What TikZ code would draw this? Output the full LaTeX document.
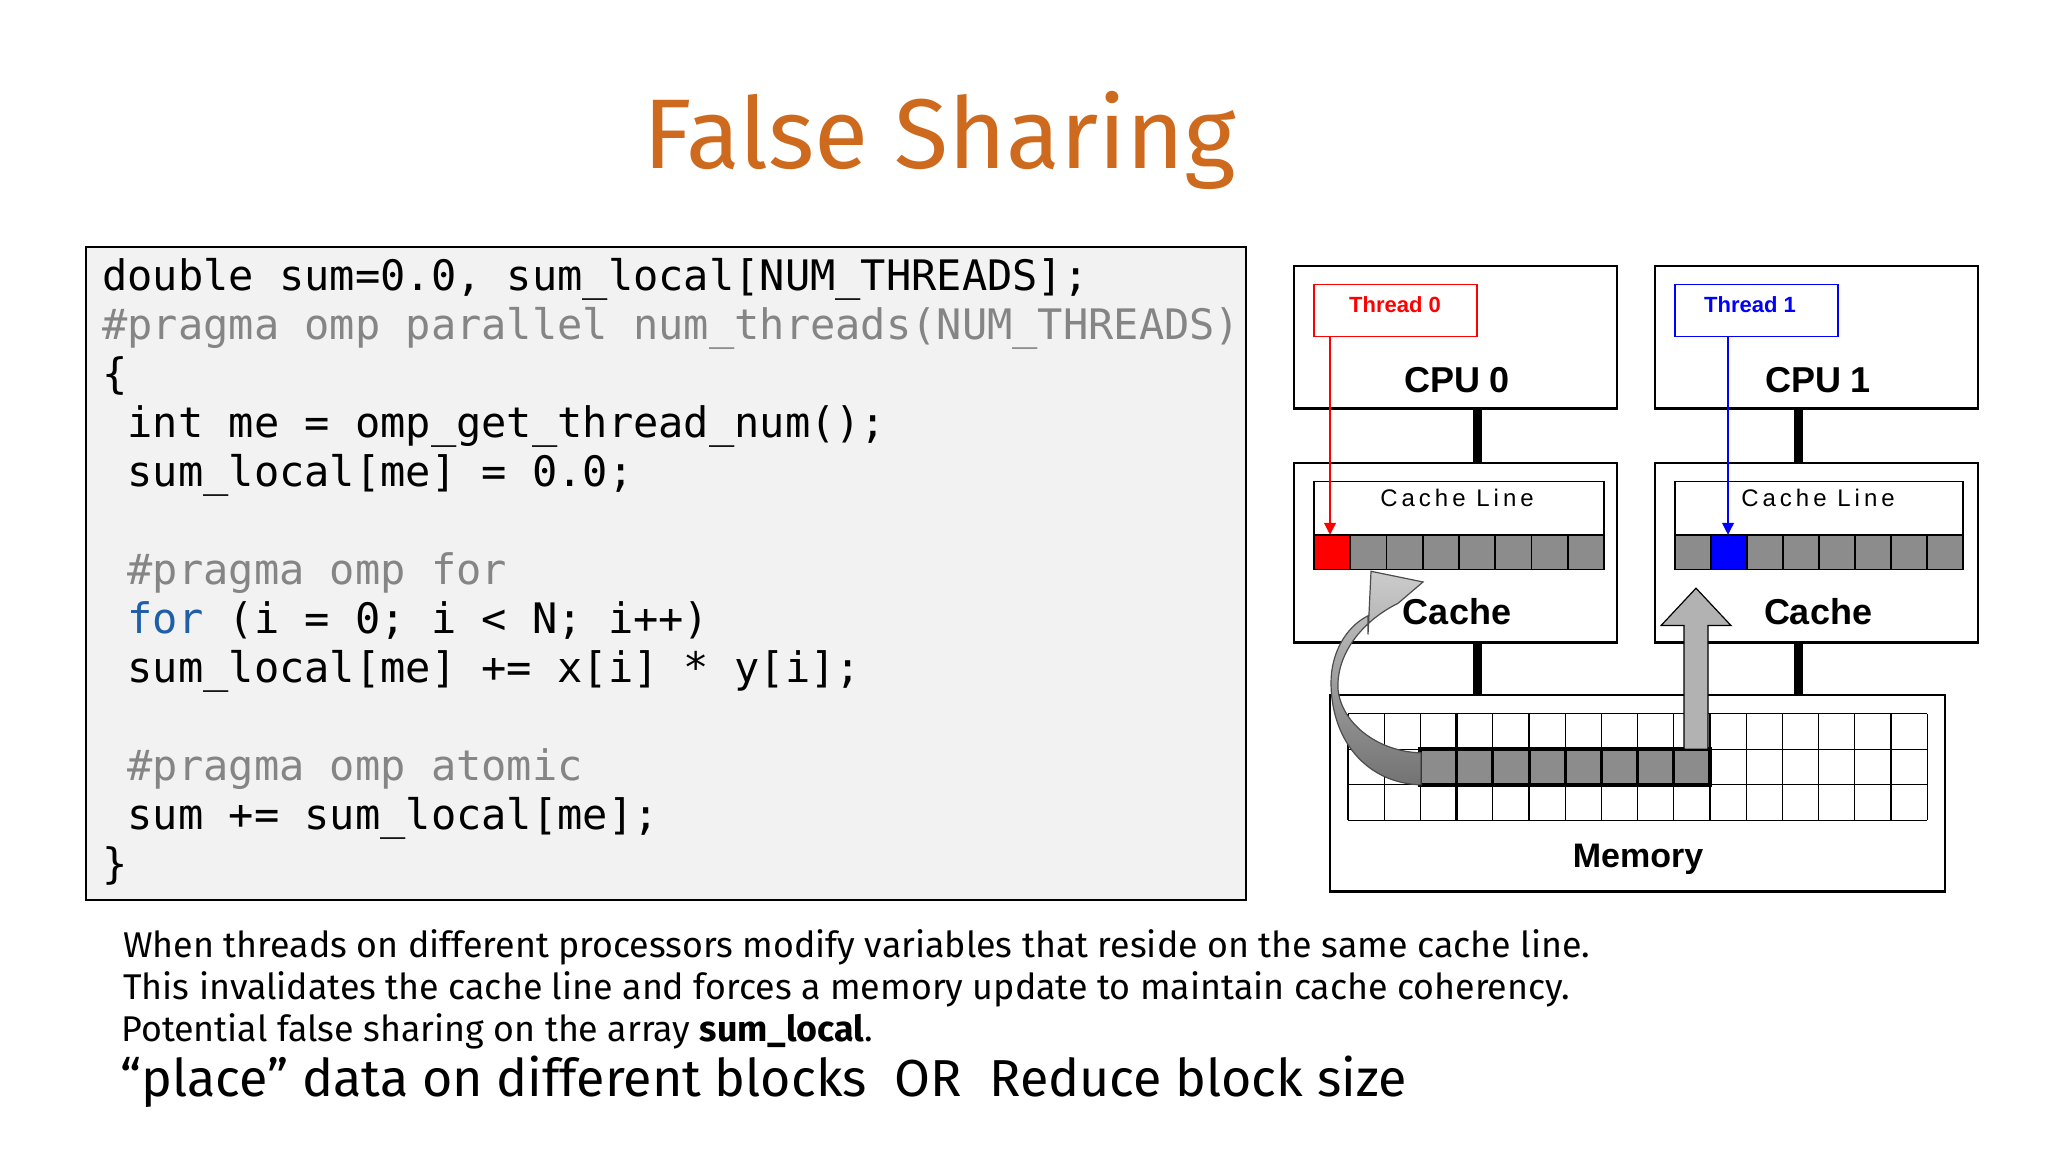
\documentclass[tikz,border=0pt]{standalone}
\usepackage{fontspec}
\usetikzlibrary{arrows.meta}
\newfontfamily\codefont{DejaVu Sans Mono}
\newfontfamily\arialf{Liberation Sans}
\newfontfamily\comic{Fira Sans}
\definecolor{titlec}{HTML}{CD6A1E}
\definecolor{pragc}{HTML}{858585}
\definecolor{forc}{HTML}{1F5FA8}
\definecolor{cellg}{HTML}{8C8C8C}
\begin{document}
\begin{tikzpicture}[x=0.5pt,y=-0.5pt,
  code/.style={anchor=base west,inner sep=0pt,font=\codefont\fontsize{21}{24}\selectfont},
  body/.style={anchor=base west,inner sep=0pt,font=\comic\fontsize{17.9}{20}\selectfont},
  box/.style={draw=black,line width=1.2pt,fill=white},
  bus/.style={line width=4.5pt},
  big/.style={font=\arialf\bfseries\fontsize{18}{20}\selectfont,inner sep=0pt}]
\useasboundingbox (0,0) rectangle (2048,1152);
\fill[white] (0,0) rectangle (2048,1152);
\node[font=\comic\fontsize{49.5}{55}\selectfont,text=titlec,inner sep=0pt] (title) at (940,140) {False Sharing};
% code box
\draw[fill=black!5,line width=1pt] (86,247) rectangle (1246,900);
\node[code] (l1) at (102,290) {double sum=0.0, sum\_local[NUM\_THREADS];};
\node[code,text=pragc] (l2) at (102,339) {\#pragma omp parallel num\_threads(NUM\_THREADS)};
\node[code] (l3) at (102,388) {\{};
\node[code] (l4) at (102,437) {\ int me = omp\_get\_thread\_num();};
\node[code] (l5) at (102,486) {\ sum\_local[me] = 0.0;};
\node[code,text=pragc] (l7) at (102,584) {\ \#pragma omp for};
\node[code] (l8) at (102,633) {\ \textcolor{forc}{for} (i = 0; i < N; i++)};
\node[code] (l9) at (102,682) {\ sum\_local[me] += x[i] * y[i];};
\node[code,text=pragc] (l11) at (102,780) {\ \#pragma omp atomic};
\node[code] (l12) at (102,829) {\ sum += sum\_local[me];};
\node[code] (l13) at (102,878) {\}};
\begin{scope}[shift={(0,266)},yscale=0.89,shift={(0,-269)}]
% buses
\draw[bus] (1477,429) -- (1477,490);
\draw[bus] (1798,429) -- (1798,490);
\draw[bus] (1477,692) -- (1477,751);
\draw[bus] (1798,692) -- (1798,751);
% CPU boxes
\draw[box] (1294,269) rectangle (1617,429);
\draw[box] (1655,269) rectangle (1978,429);
\node[big] (c0) at (1457,397) {CPU 0};
\node[big] (c1) at (1818,397) {CPU 1};
\draw[red,line width=0.6pt] (1314,290) rectangle (1477,348);
\node[text=red,font=\arialf\bfseries\fontsize{11}{12}\selectfont] (t0) at (1395,312) {Thread 0};
\draw[blue,line width=0.6pt] (1675,290) rectangle (1838,348);
\node[text=blue,font=\arialf\bfseries\fontsize{11}{12}\selectfont] (t1) at (1750,312) {Thread 1};
% cache boxes
\draw[box] (1294,490) rectangle (1617,692);
\draw[box] (1655,490) rectangle (1978,692);
\draw[line width=0.6pt] (1314,511) rectangle (1604,610);
\draw[line width=0.6pt] (1675,511) rectangle (1963,610);
\node[font=\arialf\fontsize{12}{13}\selectfont] (cl0) at (1457,530) {C\,a\,c\,h\,e\, L\,i\,n\,e};
\node[font=\arialf\fontsize{12}{13}\selectfont] (cl1) at (1818,530) {C\,a\,c\,h\,e\, L\,i\,n\,e};
\foreach \i in {0,...,7}{
  \draw[fill=cellg,line width=0.8pt] ({1314+\i*36.25},571) rectangle ({1314+(\i+1)*36.25},610);
  \draw[fill=cellg,line width=0.8pt] ({1675+\i*36},571) rectangle ({1675+(\i+1)*36},610);}
\draw[fill=red,line width=0.8pt] (1314,571) rectangle (1350.25,610);
\draw[fill=blue,line width=0.8pt] (1711,571) rectangle (1747,610);
\node[big] (k0) at (1457,657) {Cache};
\node[big] (k1) at (1818,657) {Cache};
% thread arrows
\coordinate (a0) at (1330,571);
\coordinate (a1) at (1728,571);
\draw[red,line width=0.6pt,-{Triangle[length=6pt,width=6pt]}] (1330,348) -- (a0);
\draw[blue,line width=0.6pt,-{Triangle[length=6pt,width=6pt]}] (1728,348) -- (a1);
% memory
\draw[box] (1330,751) rectangle (1945,972);
\foreach \i in {0,...,16} \draw[line width=0.6pt] ({1348+\i*36.2},772) -- ({1348+\i*36.2},892);
\foreach \j in {772,812,852,892} \draw[line width=0.6pt] (1348,\j) -- (1927,\j);
\draw[line width=1.5pt] (1456.6,772) -- (1456.6,892);
\foreach \i in {2,...,9} \draw[fill=cellg,line width=1.5pt] ({1348+\i*36.2},812) rectangle ({1348+(\i+1)*36.2},852);
\draw[line width=2pt] (1420.4,812) rectangle (1710,852);
\node[big,font=\arialf\bfseries\fontsize{17}{19}\selectfont] (memlab) at (1638,936) {Memory};
% up arrow
\draw[fill=black!30,line width=0.6pt] (1684,812) -- (1684,673) -- (1661,673) -- (1696,631) -- (1731,673) -- (1708,673) -- (1708,812) -- cycle;
% curved arrow
\shade[top color=black!20,bottom color=black!55,draw=black!70,line width=0.6pt]
 (1421,852) .. controls (1365,850) and (1331,800) .. (1331,737)
 .. controls (1331,705) and (1345,675) .. (1368,662)
 -- (1368,683) -- (1371,612) -- (1423,624) -- (1398,648)
 .. controls (1362,668) and (1336,705) .. (1338,745)
 .. controls (1342,785) and (1380,815) .. (1421,816) -- cycle;
\end{scope}
% bottom text
\node[body] (b1) at (123,957) {When threads on different processors modify variables that reside on the same cache line.};
\node[body] (b2) at (123,999) {This invalidates the cache line and forces a memory update to maintain cache coherency.};
\node[body] (b3) at (121,1041) {Potential false sharing on the array \textbf{sum\_local}.};
\node[body,font=\comic\fontsize{26}{29}\selectfont] (b4) at (120,1096) {“place” data on different blocks\ \ OR\ \ Reduce block size};
\end{tikzpicture}
\end{document}
